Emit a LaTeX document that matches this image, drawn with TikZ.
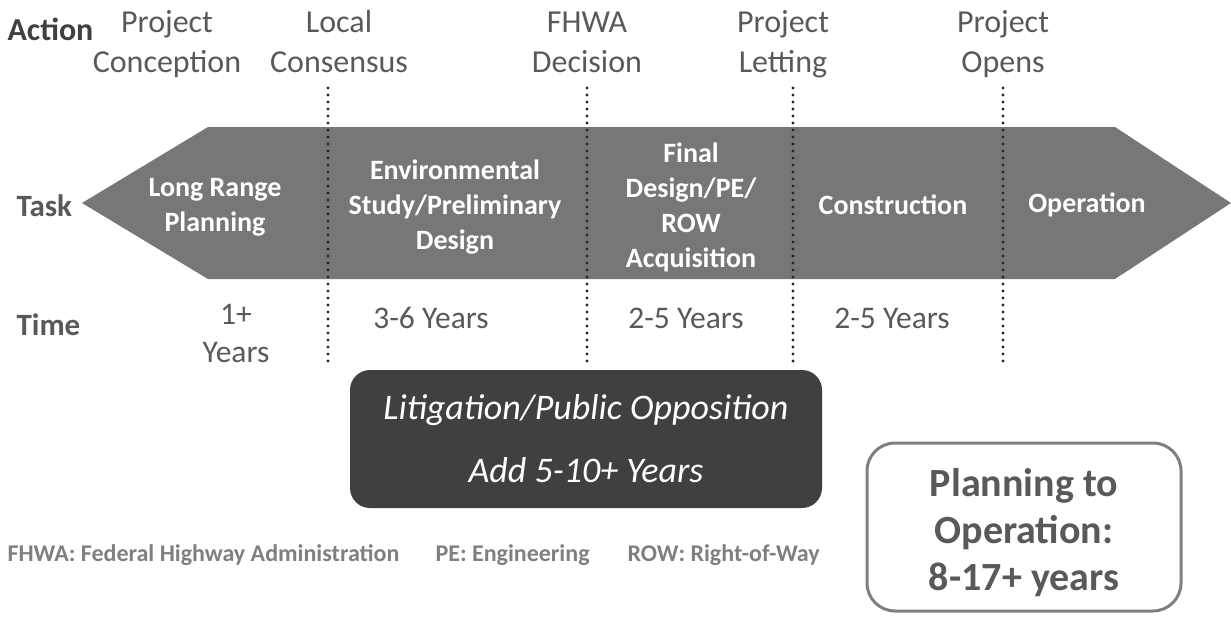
\documentclass[tikz,border=0pt]{standalone}
\usepackage{fontspec}
\setmainfont{Carlito}
\definecolor{arrowgray}{HTML}{777777}
\definecolor{txtgray}{HTML}{595959}
\definecolor{darkbox}{HTML}{404040}
\definecolor{footgray}{HTML}{7F7F7F}
\definecolor{dotcol}{HTML}{262626}
\tikzset{
  actionlbl/.style={align=center, text=txtgray, font=\fontsize{32}{40}\selectfont},
  rowlbl/.style={anchor=west, text=txtgray, font=\bfseries\fontsize{31}{34}\selectfont},
  tasklbl/.style={align=center, text=white, font=\bfseries\fontsize{28}{35}\selectfont},
  timelbl/.style={align=center, text=txtgray, font=\fontsize{31.5}{38}\selectfont},
  dotline/.style={draw=dotcol, line width=3.2pt, line cap=round, dash pattern=on 0pt off 7pt},
  footlbl/.style={anchor=west, text=footgray, font=\bfseries\fontsize{24}{28}\selectfont},
}
\begin{document}
\begin{tikzpicture}[x=1pt,y=-1pt]
\useasboundingbox (0,0) rectangle (1231,624);
% big arrow
\fill[arrowgray] (82,203) -- (208,127) -- (1115,127) -- (1231,203) -- (1115,279) -- (208,279) -- cycle;
% dotted separators
\coordinate (d1t) at (328,88);  \coordinate (d1b) at (328,366);
\coordinate (d2t) at (587,88);  \coordinate (d2b) at (587,366);
\coordinate (d3t) at (793,88);  \coordinate (d3b) at (793,366);
\coordinate (d4t) at (1003,88); \coordinate (d4b) at (1003,366);
\draw[dotline] (d1t) -- (d1b);
\draw[dotline] (d2t) -- (d2b);
\draw[dotline] (d3t) -- (d3b);
\draw[dotline] (d4t) -- (d4b);
% row labels
\node[rowlbl, text=darkbox, font=\bfseries\fontsize{32}{34}\selectfont] (action) at (4,29) {Action};
\node[rowlbl] (task) at (13,206) {Task};
\node[rowlbl] (time) at (13,325) {Time};
% action labels
\node[actionlbl] (a1) at (167,44) {Project\strut\\Conception\strut};
\node[actionlbl] (a2) at (339,44) {Local\strut\\Consensus\strut};
\node[actionlbl] (a3) at (587,44) {FHWA\strut\\Decision\strut};
\node[actionlbl] (a4) at (783,44) {Project\strut\\Letting\strut};
\node[actionlbl] (a5) at (1003,44) {Project\strut\\Opens\strut};
% task labels
\node[tasklbl] (t1) at (215,207) {Long Range\\Planning};
\node[tasklbl] (t2) at (455,207) {Environmental\\Study/Preliminary\\Design};
\node[tasklbl] (t3) at (691,207) {Final\\Design/PE/\\ROW\\Acquisition};
\node[tasklbl] (t4) at (893,205) {Construction};
\node[tasklbl] (t5) at (1087,205) {Operation};
% time labels
\node[timelbl] (m1) at (236,336) {1+\strut\\Years\strut};
\node[timelbl] (m2) at (431,318) {3-6 Years};
\node[timelbl] (m3) at (686,318) {2-5 Years};
\node[timelbl] (m4) at (892,318) {2-5 Years};
% litigation box
\node[draw=none, fill=darkbox, rounded corners=20pt, minimum width=472pt, minimum height=138pt] (lit) at (586,439) {};
\node[text=white, font=\itshape\fontsize{36}{44}\selectfont] (lit1) at (586,410) {Litigation/Public Opposition};
\node[text=white, font=\itshape\fontsize{36}{44}\selectfont] (lit2) at (586,470) {Add 5-10+ Years};
% planning box
\node[draw=footgray, line width=3pt, fill=white, rounded corners=28pt, minimum width=314pt, minimum height=168pt] (plan) at (1024,527) {};
\node[align=center, text=txtgray, font=\bfseries\fontsize{40}{47}\selectfont] (plantxt) at (1024,534) {Planning to\strut\\Operation:\strut\\8-17+ years\strut};
% footer
\node[footlbl] (f1) at (4,555) {FHWA: Federal Highway Administration};
\node[footlbl] (f2) at (432,555) {PE: Engineering};
\node[footlbl] (f3) at (624,555) {ROW: Right-of-Way};
\end{tikzpicture}
\end{document}
